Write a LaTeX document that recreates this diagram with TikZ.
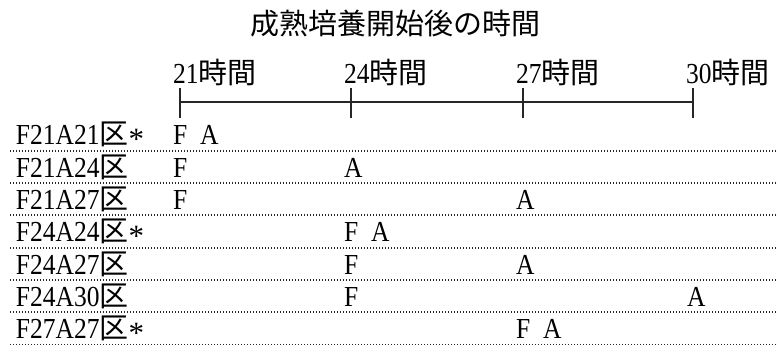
\documentclass[tikz,border=0pt]{standalone}
\usepackage{fontspec}
\setmainfont{Liberation Serif}[FakeStretch=0.88]
\newfontfamily\jp{Noto Sans CJK JP}
\newfontfamily\astfont{Liberation Serif}
\newcommand{\astmark}{\raisebox{-4.5pt}[0pt][0pt]{\astfont\fontsize{31}{31}\selectfont *}}
\begin{document}
\begin{tikzpicture}[x=1pt,y=-1pt,
  txt/.style={inner sep=0pt,outer sep=0pt,font=\fontsize{29}{30}\selectfont},
  lbl/.style={txt,anchor=base west,text depth=1pt},
  axisline/.style={line width=2pt,black!85},
  dotline/.style={line width=1.8pt,black!85,dash pattern=on 1.4pt off 1.6pt}]
\useasboundingbox (0,0) rectangle (776,345);
% title
\node[txt,anchor=base] (title) at (395,35) {\jp 成熟培養開始後の時間};
% axis
\foreach \n/\x in {21/180,24/351,27/523,30/693}{
  \coordinate (t\n) at (\x,102);
  \coordinate (t\n u) at (\x,88);
  \coordinate (t\n d) at (\x,118);
  \node[lbl] (h\n) at (\x-7,83) {\n{\jp 時間}};
  \draw[axisline] (t\n u) -- (t\n d);
}
\draw[axisline] (t21) -- (t30);
% rows
\foreach \i/\name/\star in {0/F21A21/1,1/F21A24/0,2/F21A27/0,3/F24A24/1,4/F24A27/0,5/F24A30/0,6/F27A27/1}{
  \pgfmathsetmacro{\ly}{150.7+32.3*\i}
  \pgfmathsetmacro{\by}{\ly-5.9}
  \coordinate (l\i a) at (10,\ly);
  \coordinate (l\i b) at (776,\ly);
  \draw[dotline] (l\i a) -- (l\i b);
  \ifnum\star=1
    \node[lbl] (r\i) at (16,\by) {\name{\jp 区}\astmark};
  \else
    \node[lbl] (r\i) at (16,\by) {\name{\jp 区}};
  \fi
}
% marks
\node[lbl] (m0) at (173,144.8) {F\hspace{0.45em}A};
\node[lbl] (m1f) at (173,177.1) {F};
\node[lbl] (m1a) at (344,177.1) {A};
\node[lbl] (m2f) at (173,209.4) {F};
\node[lbl] (m2a) at (516,209.4) {A};
\node[lbl] (m3) at (344,241.7) {F\hspace{0.45em}A};
\node[lbl] (m4f) at (344,274.0) {F};
\node[lbl] (m4a) at (516,274.0) {A};
\node[lbl] (m5f) at (344,306.3) {F};
\node[lbl] (m5a) at (687,306.3) {A};
\node[lbl] (m6) at (516,338.6) {F\hspace{0.45em}A};
\end{tikzpicture}
\end{document}
